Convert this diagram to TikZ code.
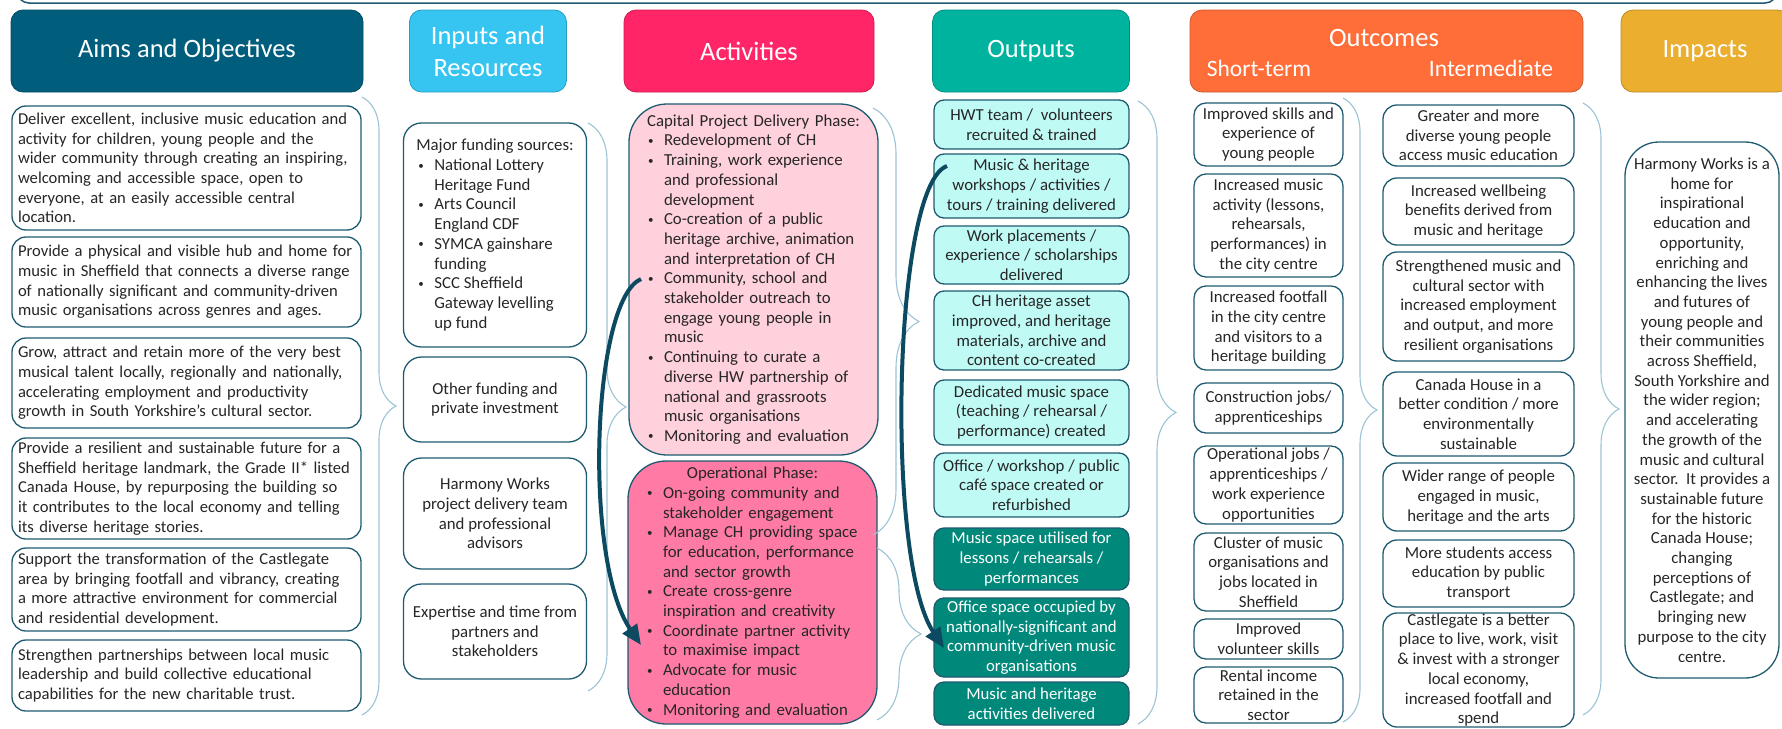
\documentclass[tikz,border=0pt]{standalone}
\usepackage{fontspec}
\setmainfont{Carlito}
\usetikzlibrary{arrows.meta,decorations.pathreplacing}

\definecolor{aimhd}{RGB}{0,94,124}
\definecolor{inphd}{RGB}{53,197,240}
\definecolor{acthd}{RGB}{255,37,103}
\definecolor{outhd}{RGB}{0,179,159}
\definecolor{ocmhd}{RGB}{255,109,56}
\definecolor{imphd}{RGB}{235,174,46}
\definecolor{edge}{RGB}{30,90,112}
\definecolor{ink}{RGB}{38,38,38}
\definecolor{capfill}{RGB}{255,209,220}
\definecolor{opfill}{RGB}{255,123,166}
\definecolor{outlt}{RGB}{192,250,245}
\definecolor{outdk}{RGB}{0,137,122}
\definecolor{bracec}{RGB}{157,195,214}
\definecolor{arrowc}{RGB}{12,74,98}

\newcommand\bodyfont{\fontsize{16.8}{19.7}\selectfont}
\newcommand\aimfont{\fontsize{16.6}{19.6}\selectfont}
\newcommand\headfont{\fontsize{26.5}{32}\selectfont}
\newcommand\subfont{\fontsize{23.5}{28}\selectfont}
% bullet and continuation indents
\newcommand\bdot{\raisebox{1.5pt}{\fontsize{11}{11}\selectfont\textbullet}}
\newcommand\bul[1][9pt]{\hspace*{#1}\makebox[16pt][l]{\bdot}}
\newcommand\cont[1][25pt]{\hspace*{#1}}

\begin{document}
\begin{tikzpicture}[x=1pt, y=-1pt,
    box/.style={draw=edge, line width=1.3pt, text=ink, font=\bodyfont,
      inner xsep=4pt, inner ysep=0pt, align=center},
    aim/.style={box, font=\aimfont, rounded corners=14pt, minimum width=349pt,
      text width=337pt, inner xsep=6pt, align=left},
    inp/.style={box, rounded corners=18pt, minimum width=183pt},
    act/.style={box, rounded corners=38pt, minimum width=249pt,
      text width=229pt, inner xsep=10pt, align=left},
    outl/.style={box, fill=outlt, rounded corners=10pt, minimum width=195pt},
    outd/.style={outl, fill=outdk, text=white},
    shortb/.style={box, rounded corners=12pt, minimum width=149pt},
    interb/.style={box, rounded corners=14pt, minimum width=191pt},
    impb/.style={box, rounded corners=34pt, minimum width=154pt},
    head/.style={rounded corners=12pt, draw=#1!80!black, fill=#1, line width=0.8pt,
      text=white, font=\headfont, align=center, minimum height=82pt},
    hdtext/.style={text=white, inner sep=0pt},
    brace/.style={draw=bracec, line width=1.1pt, decorate,
      decoration={brace, amplitude=#1}},
    flow/.style={draw=arrowc, line width=4pt, -{Triangle[length=20pt, width=17pt]}}
  ]
  \useasboundingbox (0,0) rectangle (1782,728);

  % frame running off the top
  \draw[edge, line width=1.5pt, rounded corners=12pt] (17,-40) rectangle (1777,3);

  % column headers
  \node[head=aimhd, minimum width=352pt] (aimh) at (187,51) {Aims and Objectives};
  \node[head=inphd, minimum width=157pt] (inph) at (488,51) {Inputs and\\Resources};
  \node[head=acthd, minimum width=250pt] (acth) at (749,51) {Activities};
  \node[head=outhd, minimum width=197pt] (outh) at (1031,51) {Outputs};
  \node[head=ocmhd, minimum width=393pt] (ocmh) at (1386.5,51) {};
  \node[hdtext, font=\headfont] (ocmt) at (1384,38) {Outcomes};
  \node[hdtext, font=\subfont] (shrt) at (1259,68) {Short-term};
  \node[hdtext, font=\subfont] (intm) at (1491,68) {Intermediate};
  \node[head=imphd, minimum width=168pt] (imph) at (1705,51) {Impacts};

  % aims and objectives
  \node[aim, minimum height=124pt] (aim1) at (186.5,168) {Deliver excellent, inclusive music education and\\
    activity for children, young people and the\\
    wider community through creating an inspiring,\\
    welcoming and accessible space, open to\\
    everyone, at an easily accessible central\\
    location.};
  \node[aim, minimum height=90pt] (aim2) at (186.5,282) {Provide a physical and visible hub and home for\\
    music in Sheffield that connects a diverse range\\
    of nationally significant and community-driven\\
    music organisations across genres and ages.};
  \node[aim, minimum height=90pt] (aim3) at (186.5,383) {Grow, attract and retain more of the very best\\
    musical talent locally, regionally and nationally,\\
    accelerating employment and productivity\\
    growth in South Yorkshire’s cultural sector.};
  \node[aim, minimum height=101pt] (aim4) at (186.5,488.5) {Provide a resilient and sustainable future for a\\
    Sheffield heritage landmark, the Grade II* listed\\
    Canada House, by repurposing the building so\\
    it contributes to the local economy and telling\\
    its diverse heritage stories.};
  \node[aim, minimum height=83pt] (aim5) at (186.5,589.5) {Support the transformation of the Castlegate\\
    area by bringing footfall and vibrancy, creating\\
    a more attractive environment for commercial\\
    and residential development.};
  \node[aim, minimum height=71pt] (aim6) at (186.5,675.5) {Strengthen partnerships between local music\\
    leadership and build collective educational\\
    capabilities for the new charitable trust.};

  % inputs and resources
  \node[inp, align=left, minimum height=224pt] (inp1) at (495,235) {Major funding sources:\\
    \bul[2pt]National Lottery\\ \cont[18pt]Heritage Fund\\
    \bul[2pt]Arts Council\\ \cont[18pt]England CDF\\
    \bul[2pt]SYMCA gainshare\\ \cont[18pt]funding\\
    \bul[2pt]SCC Sheffield\\ \cont[18pt]Gateway levelling\\ \cont[18pt]up fund};
  \node[inp, minimum height=85pt] (inp2) at (495,399.5) {Other funding and\\private investment};
  \node[inp, minimum height=111pt] (inp3) at (495,513.5) {Harmony Works\\project delivery team\\and professional\\advisors};
  \node[inp, minimum height=95pt] (inp4) at (495,631.5) {Expertise and time from\\partners and\\stakeholders};

  % activities
  \node[act, fill=capfill, minimum height=351pt] (cap) at (753.5,279.5) {%
    \makebox[229pt]{Capital Project Delivery Phase:}\\
    \bul Redevelopment of CH\\
    \bul Training, work experience\\ \cont and professional\\ \cont development\\
    \bul Co-creation of a public\\ \cont heritage archive, animation\\ \cont and interpretation of CH\\
    \bul Community, school and\\ \cont stakeholder outreach to\\ \cont engage young people in\\ \cont music\\
    \bul Continuing to curate a\\ \cont diverse HW partnership of\\ \cont national and grassroots\\ \cont music organisations\\
    \bul Monitoring and evaluation};
  \node[act, fill=opfill, minimum height=263pt] (oper) at (752.5,592.5) {%
    \makebox[229pt]{Operational Phase:}\\
    \bul On-going community and\\ \cont stakeholder engagement\\
    \bul Manage CH providing space\\ \cont for education, performance\\ \cont and sector growth\\
    \bul Create cross-genre\\ \cont inspiration and creativity\\
    \bul Coordinate partner activity\\ \cont to maximise impact\\
    \bul Advocate for music\\ \cont education\\
    \bul Monitoring and evaluation};

  % outputs
  \node[outl, minimum height=49pt] (out1) at (1031.5,124.5) {HWT team /\ \ volunteers\\recruited \& trained};
  \node[outl, minimum height=64pt] (out2) at (1031.5,186) {Music \& heritage\\workshops / activities /\\tours / training delivered};
  \node[outl, minimum height=58pt] (out3) at (1031.5,255) {Work placements /\\experience / scholarships\\delivered};
  \node[outl, minimum height=79pt] (out4) at (1031.5,330.5) {CH heritage asset\\improved, and heritage\\materials, archive and\\content co-created};
  \node[outl, minimum height=65pt] (out5) at (1031.5,412.5) {Dedicated music space\\(teaching / rehearsal /\\performance) created};
  \node[outl, minimum height=64pt] (out6) at (1031.5,485) {Office / workshop / public\\café space created or\\refurbished};
  \node[outd, minimum height=62pt] (out7) at (1031.5,559) {Music space utilised for\\lessons / rehearsals /\\performances};
  \node[outd, minimum height=79pt] (out8) at (1031.5,637.5) {Office space occupied by\\nationally-significant and\\community-driven music\\organisations};
  \node[outd, minimum height=43pt] (out9) at (1031.5,703.5) {Music and heritage\\activities delivered};

  % short-term outcomes
  \node[shortb, minimum height=63pt] (st1) at (1268.5,134.5) {Improved skills and\\experience of\\young people};
  \node[shortb, minimum height=103pt] (st2) at (1268.5,225.5) {Increased music\\activity (lessons,\\rehearsals,\\performances) in\\the city centre};
  \node[shortb, minimum height=84pt] (st3) at (1268.5,328) {Increased footfall\\in the city centre\\and visitors to a\\heritage building};
  \node[shortb, minimum height=50pt] (st4) at (1268.5,408) {Construction jobs/\\apprenticeships};
  \node[shortb, minimum height=78pt] (st5) at (1268.5,485) {Operational jobs /\\apprenticeships /\\work experience\\opportunities};
  \node[shortb, minimum height=78pt] (st6) at (1268.5,572) {Cluster of music\\organisations and\\jobs located in\\Sheffield};
  \node[shortb, minimum height=40pt] (st7) at (1268.5,639) {Improved\\volunteer skills};
  \node[shortb, minimum height=56pt] (st8) at (1268.5,695) {Rental income\\retained in the\\sector};

  % intermediate outcomes
  \node[interb, minimum height=61pt] (im1) at (1478.5,135.5) {Greater and more\\diverse young people\\access music education};
  \node[interb, minimum height=67pt] (im2) at (1478.5,211.5) {Increased wellbeing\\benefits derived from\\music and heritage};
  \node[interb, minimum height=109pt] (im3) at (1478.5,306.5) {Strengthened music and\\cultural sector with\\increased employment\\and output, and more\\resilient organisations};
  \node[interb, minimum height=84pt] (im4) at (1478.5,414) {Canada House in a\\better condition / more\\environmentally\\sustainable};
  \node[interb, minimum height=68pt] (im5) at (1478.5,497) {Wider range of people\\engaged in music,\\heritage and the arts};
  \node[interb, minimum height=67pt] (im6) at (1478.5,573.5) {More students access\\education by public\\transport};
  \node[interb, minimum height=114pt] (im7) at (1478.5,670) {Castlegate is a better\\place to live, work, visit\\\& invest with a stronger\\local economy,\\increased footfall and\\spend};

  % impacts
  \node[impb, minimum height=536pt] (imp) at (1702,410) {Harmony Works is a\\home for\\inspirational\\education and\\opportunity,\\enriching and\\enhancing the lives\\and futures of\\young people and\\their communities\\across Sheffield,\\South Yorkshire and\\the wider region;\\and accelerating\\the growth of the\\music and cultural\\sector.\ \ It provides a\\sustainable future\\for the historic\\Canada House;\\changing\\perceptions of\\Castlegate; and\\bringing new\\purpose to the city\\centre.};

  % braces between the columns
  \draw[brace=34pt] (362,97) -- (362,715);
  \draw[brace=38pt] (588,123) -- (588,691);
  \draw[brace=46pt] (873,108) -- (873,535);
  \draw[brace=44pt] (877,548) -- (877,720);
  \draw[brace=38pt] (1138,101) -- (1138,724);
  \draw[brace=34pt] (1343,98) -- (1343,722);
  \draw[brace=36pt] (1583,103) -- (1583,715);

  % arrows from one phase to the next
  \coordinate (commb) at (641,279);
  \coordinate (coordb) at (641,645);
  \coordinate (wkshp) at (947,166);
  \coordinate (offsp) at (944,648);
  \draw[flow] (commb) .. controls (592,300) and (583,560) .. (coordb);
  \draw[flow] (wkshp) .. controls (893,185) and (885,560) .. (offsp);
\end{tikzpicture}
\end{document}
